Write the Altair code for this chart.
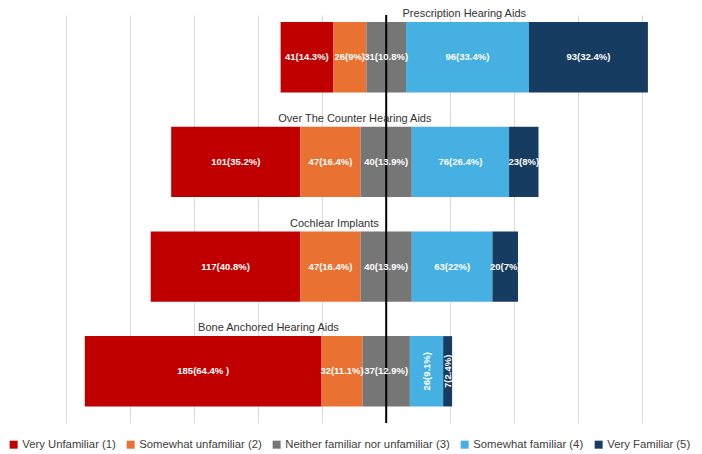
import altair as alt
import pandas as pd

categories = ["Prescription Hearing Aids", "Over The Counter Hearing Aids",
              "Cochlear Implants", "Bone Anchored Hearing Aids"]
levels = ["Very Unfamiliar (1)", "Somewhat unfamiliar (2)",
          "Neither familiar nor unfamiliar (3)", "Somewhat familiar (4)",
          "Very Familiar (5)"]
colors = ["#C00000", "#E97132", "#767676", "#45B0E1", "#163C62"]

counts = {
    "Prescription Hearing Aids": [41, 26, 31, 96, 93],
    "Over The Counter Hearing Aids": [101, 47, 40, 76, 23],
    "Cochlear Implants": [117, 47, 40, 63, 20],
    "Bone Anchored Hearing Aids": [185, 32, 37, 26, 7],
}
labels = {
    "Prescription Hearing Aids": ["41(14.3%)", "26(9%)", "31(10.8%)", "96(33.4%)", "93(32.4%)"],
    "Over The Counter Hearing Aids": ["101(35.2%)", "47(16.4%)", "40(13.9%)", "76(26.4%)", "23(8%)"],
    "Cochlear Implants": ["117(40.8%)", "47(16.4%)", "40(13.9%)", "63(22%)", "20(7%)"],
    "Bone Anchored Hearing Aids": ["185(64.4% )", "32(11.1%)", "37(12.9%)", "26(9.1%)", "7(2.4%)"],
}
rotated = {("Bone Anchored Hearing Aids", 3), ("Bone Anchored Hearing Aids", 4)}

HALF = 0.336  # half bar thickness, in row units

rows = []
titles = []
for k, cat in enumerate(categories):
    c = counts[cat]
    start = -(c[0] + c[1] + c[2] / 2)
    s = start
    for i, lev in enumerate(levels):
        e = s + c[i]
        rows.append({"category": cat, "level": lev, "start": s, "end": e,
                     "mid": (s + e) / 2, "label": labels[cat][i],
                     "row": k, "top": k - HALF, "bot": k + HALF,
                     "rot": (cat, i) in rotated})
        s = e
    titles.append({"category": cat, "center": (start + s) / 2, "row": k})

df = pd.DataFrame(rows)
tdf = pd.DataFrame(titles)

xscale = alt.Scale(domain=[-295.5, 240.5], nice=False, zero=False)
yscale = alt.Scale(domain=[-0.404, 3.494], reverse=True, nice=False, zero=False)

bars = alt.Chart(df).mark_bar().encode(
    x=alt.X("start:Q", scale=xscale,
            axis=alt.Axis(values=list(range(-300, 251, 50)), labels=False,
                          ticks=False, domain=False, title=None,
                          gridColor="#D9D9D9", gridWidth=1)),
    x2="end:Q",
    y=alt.Y("top:Q", scale=yscale, axis=None),
    y2="bot:Q",
    color=alt.Color("level:N", sort=levels,
                    scale=alt.Scale(domain=levels, range=colors),
                    legend=alt.Legend(title=None, orient="bottom",
                                      direction="horizontal", symbolType="square",
                                      symbolSize=64, symbolStrokeWidth=0,
                                      labelFont="Liberation Sans", labelFontSize=11.3,
                                      labelColor="#404040", columnPadding=9,
                                      symbolOffset=0, offset=16, padding=0,
                                      labelOffset=3, labelLimit=400)),
)

txt = alt.Chart(df).transform_filter("!datum.rot").mark_text(
    color="white", fontWeight="bold", font="Liberation Sans", fontSize=9.5
).encode(x=alt.X("mid:Q", scale=xscale), y=alt.Y("row:Q", scale=yscale), text="label:N")

txt_rot = alt.Chart(df).transform_filter("datum.rot").mark_text(
    color="white", fontWeight="bold", font="Liberation Sans", fontSize=9.5, angle=270
).encode(x=alt.X("mid:Q", scale=xscale), y=alt.Y("row:Q", scale=yscale), text="label:N")

ttl = alt.Chart(tdf).mark_text(
    color="#333333", font="Liberation Sans", fontSize=11, dy=-43
).encode(x=alt.X("center:Q", scale=xscale), y=alt.Y("row:Q", scale=yscale),
         text="category:N")

center = alt.Chart(pd.DataFrame({"x": [0]})).mark_rule(
    color="black", strokeWidth=2
).encode(x=alt.X("x:Q", scale=xscale))

chart = alt.layer(bars, center, txt, txt_rot, ttl).properties(
    width=686, height=408, padding=0
).configure_view(stroke=None)

chart.save("out.html", embed_options={"renderer": "svg", "actions": False})
